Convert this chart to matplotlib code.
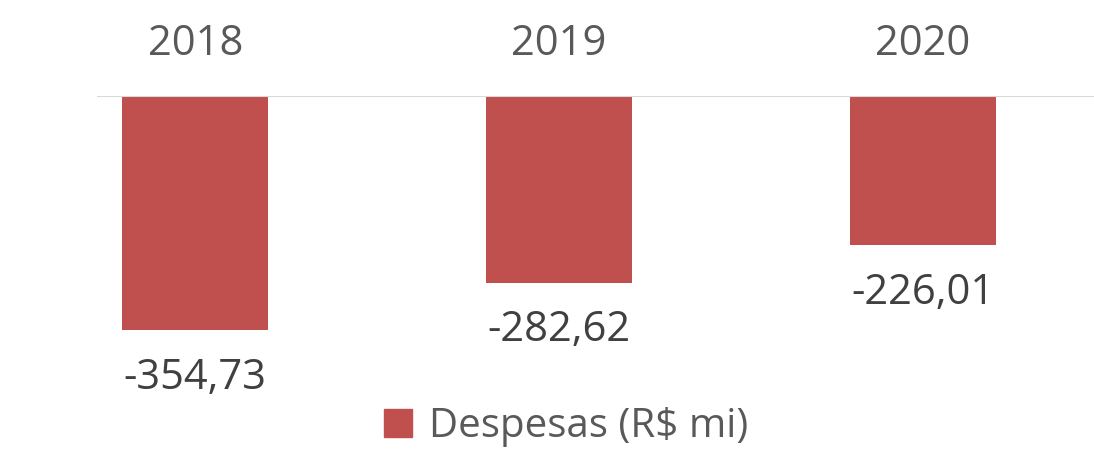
import matplotlib.pyplot as plt
from matplotlib.patches import Patch

years = ['2018', '2019', '2020']
despesas = [-354.73, -282.62, -226.01]
value_labels = ['-354,73', '-282,62', '-226,01']
series_name = 'Despesas (R$ mi)'

plt.rcParams['font.family'] = ['Open Sans', 'DejaVu Sans']

fig = plt.figure(figsize=(10.94, 4.5), dpi=100)
# axes: top edge at the zero line (y=96px), left at 97px
ax = fig.add_axes([97 / 1094, 1 - 400 / 450, 1 - 97 / 1094, (400 - 96) / 450])

x = range(len(years))
bars = ax.bar(x, despesas, width=0.4, color='#C0504D')

ax.set_xlim(-0.27, 2.47)
ax.set_ylim(-304 / 0.66, 0)

for s in ax.spines.values():
    s.set_visible(False)
ax.axhline(0, color='#D9D9D9', lw=1.5, zorder=3)
ax.set_yticks([])
ax.set_xticks(list(x))
ax.set_xticklabels(years, fontsize=30, color='#595959')
ax.xaxis.tick_top()
ax.tick_params(axis='x', length=0, pad=22)

for b, lab in zip(bars, value_labels):
    ax.annotate(lab, (b.get_x() + b.get_width() / 2, b.get_height()),
                xytext=(0, -19), textcoords='offset points',
                ha='center', va='top', fontsize=30, color='#404040')

fig.legend(handles=[Patch(color='#C0504D', label=series_name)],
           loc='center', bbox_to_anchor=(566 / 1094, 1 - 427 / 450),
           frameon=False, fontsize=29, labelcolor='#595959',
           handlelength=0.7, handleheight=0.7, handletextpad=0.4,
           borderpad=0.2)

fig.savefig('out.png', dpi=100)
